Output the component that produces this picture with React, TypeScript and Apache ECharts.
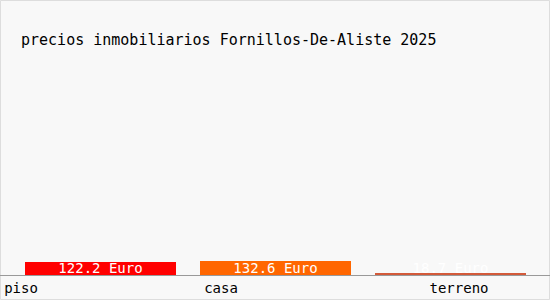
import React, { useEffect, useRef } from "react";
import * as echarts from "echarts";

const categories = ["piso", "casa", "terreno"];
const values = [122.2, 132.6, 18.7];
const barColors = ["#ff0000", "#ff6600", "#d35a3a"];
const titleText = "precios inmobiliarios Fornillos-De-Aliste 2025";
const unit = "Euro";

const FONT = "'DejaVu Sans Mono', 'Liberation Mono', monospace";

export default function App() {
  const ref = useRef<HTMLDivElement>(null);
  useEffect(() => {
    document.body.style.margin = "0";
    const chart = echarts.init(ref.current!, null, { renderer: "svg" });
    const labelPads = [
      [0, 159, 0, 0],
      [0, 109, 0, 0],
      [0, 0, 0, 17],
    ];
    const rich: any = {};
    categories.forEach((_, i) => {
      rich["c" + i] = {
        fontFamily: FONT,
        fontSize: 14,
        color: "#000",
        padding: labelPads[i],
      };
    });
    chart.setOption({
      animation: false,
      backgroundColor: "#f8f8f8",
      title: {
        text: titleText,
        left: 16,
        top: 27,
        textStyle: { fontFamily: FONT, fontSize: 15, fontWeight: "normal", color: "#000" },
      },
      grid: { left: 13, right: 12, top: 60, bottom: 25 },
      xAxis: {
        type: "category",
        data: categories,
        axisLine: { show: false },
        axisTick: { show: false },
        axisLabel: {
          interval: 0,
          margin: 6,
          formatter: (v: string) => `{c${categories.indexOf(v)}|${v}}`,
          rich,
        },
      },
      yAxis: {
        type: "value",
        min: 0,
        max: 2020,
        show: false,
        splitLine: { show: false },
      },
      series: [
        {
          type: "bar",
          barWidth: 151,
          data: values.map((v, i) => ({ value: v, itemStyle: { color: barColors[i] } })),
          label: {
            show: true,
            position: "insideBottom",
            distance: 0,
            color: "#fff",
            fontFamily: FONT,
            fontSize: 14,
            formatter: (p: any) => `${p.value.toFixed(1)} ${unit}`,
          },
        },
      ],
      graphic: [
        {
          type: "line",
          shape: { x1: 0, y1: 275.5, x2: 550, y2: 275.5 },
          style: { stroke: "#999", lineWidth: 1 },
          z: 10,
        },
        {
          type: "rect",
          shape: { x: 0.5, y: 0.5, width: 549, height: 299 },
          style: { fill: "none", stroke: "#ddd", lineWidth: 1 },
          silent: true,
        },
      ],
    });
    return () => chart.dispose();
  }, []);
  return <div ref={ref} style={{ width: 550, height: 300 }} />;
}
